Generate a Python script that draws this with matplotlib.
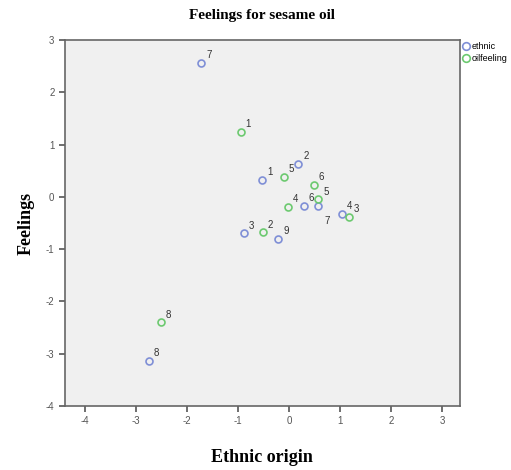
import matplotlib.pyplot as plt

plt.rcParams["axes.unicode_minus"] = False

# ethnic (blue) points
eth_x = [-0.53, 0.18, -0.89, 1.03, 0.29, -1.72, 0.56, -2.75, -0.21]
eth_y = [0.33, 0.63, -0.70, -0.33, -0.17, 2.56, -0.17, -3.13, -0.81]
eth_lab = ["1", "2", "3", "4", "6", "7", "7", "8", "9"]

# oilfeeling (green) points
oil_x = [-0.95, -0.52, 1.18, -0.02, -0.10, 0.57, 0.49, -2.51]
oil_y = [1.24, -0.68, -0.39, -0.20, 0.38, -0.05, 0.22, -2.40]
oil_lab = ["1", "2", "3", "4", "5", "5", "6", "8"]

blue = "#7f8fd6"
green = "#6cc970"

fig = plt.figure(figsize=(5.11, 4.70), dpi=100)
ax = fig.add_axes([0.127, 0.136, 0.773, 0.779])
ax.set_facecolor("#f0f0f0")

ax.plot(eth_x, eth_y, "o", mfc="none", mec=blue, mew=1.2, ms=5, label="ethnic", ls="none")
ax.plot(oil_x, oil_y, "o", mfc="none", mec=green, mew=1.2, ms=5, label="oilfeeling", ls="none")

for x, y, t in zip(eth_x, eth_y, eth_lab):
    dx, dy = 3.5, 3.5
    if x == 0.56:  # label sits below right
        dx, dy = 5, -13
    ax.annotate(t, (x, y), xytext=(dx, dy), textcoords="offset points",
                fontsize=7, color="#333333", family="Liberation Sans")
for x, y, t in zip(oil_x, oil_y, oil_lab):
    ax.annotate(t, (x, y), xytext=(3.5, 3.5), textcoords="offset points",
                fontsize=7, color="#333333", family="Liberation Sans")

ax.set_xlim(-4.4, 3.35)
ax.set_ylim(-4, 3)
ax.set_xticks(range(-4, 4))
ax.set_yticks(range(-4, 4))
ax.tick_params(direction="out", length=4, width=1.2, color="#555555",
               labelsize=7, labelcolor="#555555")
for lab in ax.get_xticklabels() + ax.get_yticklabels():
    lab.set_family("Liberation Sans")
for s in ax.spines.values():
    s.set_color("#666666")
    s.set_linewidth(1.2)

ax.set_title("Feelings for sesame oil", family="Liberation Serif", fontweight="bold",
             fontsize=11, pad=15)
ax.set_xlabel("Ethnic origin", family="Liberation Serif", fontweight="bold", fontsize=13, labelpad=16)
ax.set_ylabel("Feelings", family="Liberation Serif", fontweight="bold", fontsize=13, labelpad=8)

ax.legend(loc="upper left", bbox_to_anchor=(0.995, 1.005), frameon=False,
          prop={"family": "Liberation Sans", "size": 6.5}, handletextpad=0.1,
          borderaxespad=0, labelspacing=0.35, handlelength=1.0, markerscale=1.1)

fig.savefig("out.png", dpi=100)
